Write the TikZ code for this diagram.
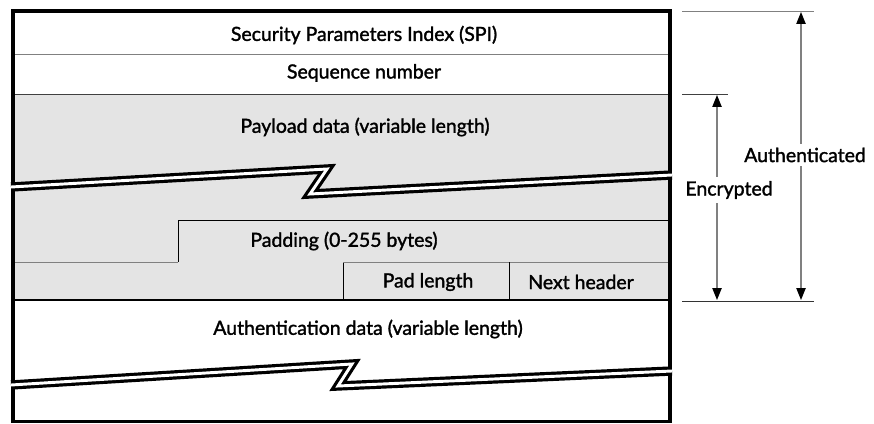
\documentclass[tikz,border=0pt]{standalone}
\usepackage{fontspec}
\setmainfont{Lato}[BoldFont=Lato, BoldFeatures={FakeBold=1.6}]
\usetikzlibrary{arrows.meta}
\definecolor{pktgray}{RGB}{228,228,228}
\definecolor{rulegray}{RGB}{128,128,128}
\begin{document}
\begin{tikzpicture}[x=0.75pt,y=-0.75pt,
  wall/.style={line width=2.6pt, line join=miter},
  thinline/.style={line width=0.75pt},
  brk/.style={line width=2.4pt, double=white, double distance=2.2pt, line join=miter},
  lbl/.style={font=\fontsize{14.6}{16}\selectfont\bfseries, inner sep=1pt},
  dimarrow/.style={rulegray, line width=1pt, {Triangle[length=9pt,width=7pt,black]}-{Triangle[length=9pt,width=7pt,black]}},
  tickline/.style={line width=0.75pt}]
\useasboundingbox (0,0) rectangle (874,424);
\fill[white] (0,0) rectangle (874,424);
% gray areas
\fill[pktgray] (13,95) -- (670,95) -- (670,175) -- (310,194) -- (327,169) -- (13,187) -- cycle;
\fill[pktgray] (13,187) -- (327,169) -- (310,194) -- (670,175) -- (670,300) -- (13,300) -- cycle;
% inner lines
\draw[thinline, rulegray] (13,55) -- (670,55);
\draw[thinline, black!75] (13,95) -- (670,95);
\draw[thinline] (178,262) |- (670,220);
\draw[thinline, rulegray] (13,262) -- (178,262);
\draw[thinline] (343,300) -- (343,262);
\draw[thinline, rulegray] (343,262) -- (670,262);
\draw[thinline] (509,262) -- (509,300);
\draw[line width=1.4pt] (13,300) -- (670,300);
% walls
\draw[wall] (13,421.5) -- (13,11) -- (670,11) -- (670,421.5) -- cycle;
% breaks
\draw[brk] (11,187) -- (327,169) -- (310,194) -- (672,175);
\draw[brk] (11,385) -- (352,364) -- (338,386) -- (672,371);
% texts
\node[lbl] (spi) at (364,35) {Security Parameters Index (SPI)};
\node[lbl] (seq) at (364,73) {Sequence number};
\node[lbl] (pay) at (365,127) {Payload data (variable length)};
\node[lbl] (pad) at (344,241) {Padding (0-255 bytes)};
\node[lbl] (padlen) at (428,282) {Pad length};
\node[lbl] (nxt) at (581,282) {Next header};
\node[lbl] (authdata) at (368,329) {Authentication data (variable length)};
% dimension lines
\coordinate (aT) at (801,12);
\coordinate (aB) at (801,300);
\coordinate (eT) at (717,95);
\coordinate (eB) at (717,300);
\draw[tickline, rulegray] (682,12) -- (814,12);
\draw[tickline, black!75] (682,95) -- (728,95);
\draw[tickline, black!80] (682,301) -- (814,301);
\draw[dimarrow] (aB) -- (aT);
\draw[dimarrow] (eB) -- (eT);
\node[lbl, fill=white, inner sep=3pt] (auth) at (805,155) {Authenticated};
\node[lbl, fill=white, inner sep=3pt] (enc) at (729,190) {Encrypted};
\end{tikzpicture}
\end{document}
